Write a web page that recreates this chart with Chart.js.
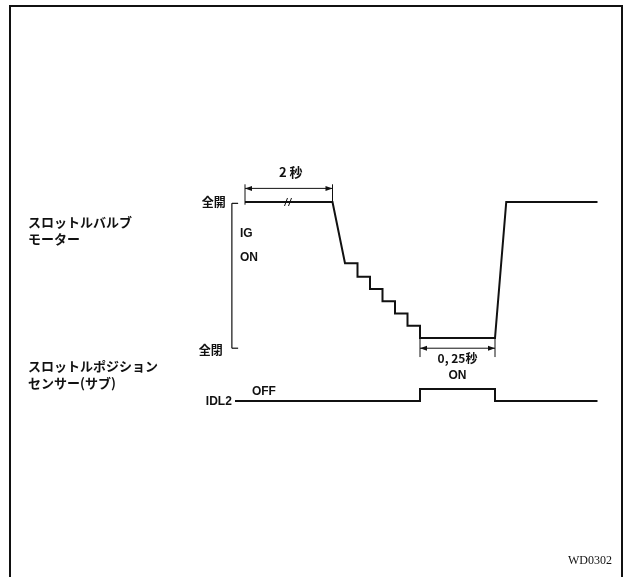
<!DOCTYPE html>
<html>
<head>
<meta charset="utf-8">
<script src="https://cdn.jsdelivr.net/npm/chart.js@4/dist/chart.umd.min.js"></script>
<style>
  body { margin: 0; background: #fff; }
  #wrap { position: relative; width: 631px; height: 577px; overflow: hidden; }
  #frame { position: absolute; left: 9px; top: 5px; width: 610px; height: 600px;
           border-left: 2px solid #111; border-top: 2px solid #111; border-right: 2px solid #111; }
  #chart-1 { position: absolute; left: 0; top: 0; }
</style>
</head>
<body>
<div id="wrap">
  <div id="frame"></div>
  <canvas id="chart-1" width="631" height="577"></canvas>
</div>
<script>
// time in arbitrary steps (diagram is not to scale), motor opening in % (0 = 全閉, 100 = 全開)
const motorX = [0, 7, 8, 9, 9, 10, 10, 11, 11, 12, 12, 13, 13, 14, 14, 20, 20.9, 28.2];
const motorY = [100, 100, 55, 55, 45, 45, 36, 36, 27, 27, 18, 18, 9, 9, 0, 0, 100, 100];
// IDL2 signal: 0 = OFF, 1 = ON
const sensorX = [-0.8, 14, 14, 20, 20, 28.2];
const sensorY = [0, 0, 1, 1, 0, 0];

const motorLabel = ['スロットルバルブ', 'モーター'];
const sensorLabel = ['スロットルポジション', 'センサー(サブ)'];
const spanLabels = ['2 秒', '0, 25秒'];

const JP = '"Noto Sans CJK JP", "Noto Sans", sans-serif';

const overlay = {
    id: 'overlay',
    afterDatasetsDraw(chart) {
        const c = chart.ctx;
        const x = chart.scales.x, y = chart.scales.y, y2 = chart.scales.y2;
        const X = v => x.getPixelForValue(v);
        const Y = v => y.getPixelForValue(v);
        const Y2 = v => y2.getPixelForValue(v);
        c.save();
        c.strokeStyle = '#111';
        c.fillStyle = '#111';
        c.lineWidth = 1;

        function line(x1, y1, x2, y2_) {
            c.beginPath(); c.moveTo(x1, y1); c.lineTo(x2, y2_); c.stroke();
        }
        function head(px, py, dir) {
            c.beginPath();
            c.moveTo(px, py);
            c.lineTo(px - dir * 7, py - 2.5);
            c.lineTo(px - dir * 7, py + 2.5);
            c.closePath(); c.fill();
        }
        function span(a, b, lvl, tickTop, tickBot) {
            const xa = X(a), xb = X(b), yl = Y(lvl);
            line(xa, Y(tickTop), xa, Y(tickBot));
            line(xb, Y(tickTop), xb, Y(tickBot));
            line(xa, yl, xb, yl);
            head(xa, yl, -1);
            head(xb, yl, 1);
        }
        // dimension lines
        span(motorX[0], motorX[1], 110, 113, 98);
        span(motorX[14], motorX[15], -7.5, 0, -14);

        // bracket full open / full closed
        c.lineWidth = 1.2;
        const bx = X(-1.05), bt = Y(99), bb = Y(-7.5);
        line(bx, bt, bx, bb);
        line(bx, bt, X(-0.55), bt);
        line(bx, bb, X(-0.55), bb);

        // break mark on the flat part
        c.lineWidth = 1;
        const mx = X(3.4), my = Y(100);
        line(mx - 3, my + 4, mx, my - 4);
        line(mx + 1, my + 4, mx + 4, my - 4);

        c.textBaseline = 'middle';
        // left labels
        c.font = 'bold 13px ' + JP;
        c.textAlign = 'left';
        c.fillText(motorLabel[0], 28, 222);
        c.fillText(motorLabel[1], 28, 239);
        c.fillText(sensorLabel[0], 28, 366);
        c.fillText(sensorLabel[1], 28, 383);

        c.font = 'bold 12px ' + JP;
        c.textAlign = 'right';
        c.fillText('全開', bx - 6, Y(100));
        c.fillText('全閉', bx - 9, Y(-9));

        c.font = 'bold 13px ' + JP;
        c.textAlign = 'center';
        c.fillText(spanLabels[0], (X(motorX[0]) + X(motorX[1])) / 2 + 2, Y(122));
        c.font = 'bold 12px ' + JP;
        c.fillText(spanLabels[1], (X(motorX[14]) + X(motorX[15])) / 2, Y(-15));

        c.font = 'bold 12px "Liberation Sans", Arial, sans-serif';
        c.fillText('ON', (X(sensorX[2]) + X(sensorX[3])) / 2, Y2(2.1));
        c.textAlign = 'left';
        c.fillText('IG', X(-0.4), Y(77));
        c.fillText('ON', X(-0.4), Y(59));
        c.fillText('OFF', X(0.55), Y2(0.8));
        c.textAlign = 'right';
        c.fillText('IDL2', X(-1.05), Y2(-0.1));

        c.font = '12px "Liberation Serif", "DejaVu Serif", serif';
        c.fillText('WD0302', 612, 561);
        c.restore();
    }
};

const ctx = document.getElementById('chart-1').getContext('2d');
new Chart(ctx, {
    type: 'line',
    data: {
        datasets: [
            {
                label: 'motor',
                data: motorX.map((v, i) => ({ x: v, y: motorY[i] })),
                borderColor: '#111',
                borderWidth: 2,
                pointRadius: 0,
                tension: 0,
                yAxisID: 'y'
            },
            {
                label: 'IDL2',
                data: sensorX.map((v, i) => ({ x: v, y: sensorY[i] })),
                borderColor: '#111',
                borderWidth: 2,
                pointRadius: 0,
                tension: 0,
                yAxisID: 'y2'
            }
        ]
    },
    options: {
        responsive: false,
        animation: false,
        layout: { padding: 0 },
        scales: {
            x: { type: 'linear', display: false, min: -19.6, max: 30.88 },
            y: { display: false, min: -175.7, max: 248.5 },
            y2: { display: false, min: -14.67, max: 33.42 }
        },
        plugins: {
            legend: { display: false },
            tooltip: { enabled: false }
        }
    },
    plugins: [overlay]
});
</script>
</body>
</html>
